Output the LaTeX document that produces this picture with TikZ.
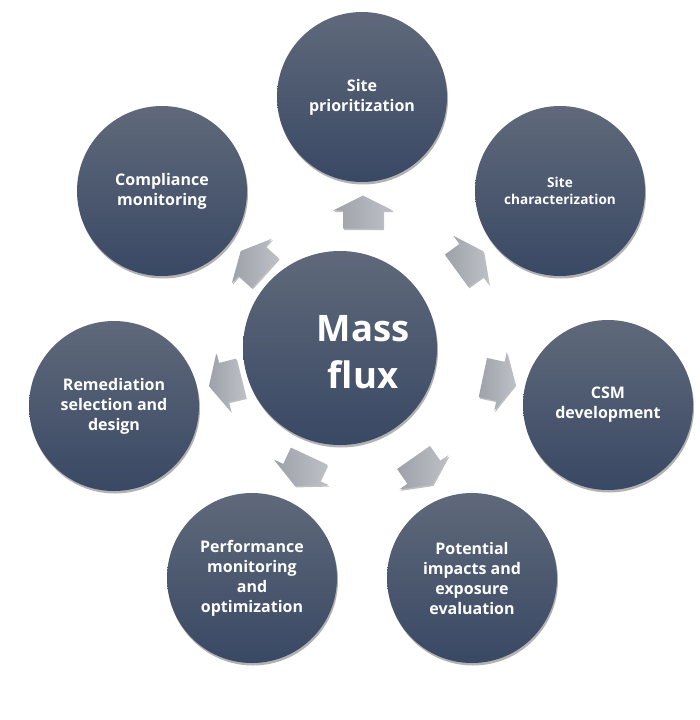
\documentclass[tikz,border=0pt]{standalone}
\usepackage{fontspec}
\setmainfont{Open Sans}
\usetikzlibrary{shadows}
\definecolor{ctop}{RGB}{95,105,122}
\definecolor{cbot}{RGB}{57,72,100}
\definecolor{atop}{RGB}{190,192,198}
\definecolor{abot}{RGB}{158,161,169}
\tikzset{
 bubble/.style={circle, minimum size=170pt, inner sep=0pt, top color=ctop, bottom color=cbot,
   draw=none, text=white, align=center, font=\bfseries\fontsize{16}{20}\selectfont,
   drop shadow={opacity=0.3, shadow xshift=1pt, shadow yshift=-2.5pt, fill=black}},
 hub/.style={bubble, minimum size=194pt},
 hubtext/.style={text=white, align=center, inner sep=0pt, font=\bfseries\fontsize{36.5}{47}\selectfont},
 flow/.style={left color=abot, right color=atop, draw=none,
   drop shadow={opacity=0.25, shadow xshift=1pt, shadow yshift=-1.5pt, fill=black}}
}
\newcommand{\flowarrow}[2]{%
 \begin{scope}[shift={#1}, rotate=#2]
  \path[flow] (-16.5pt,-20pt) -- (1.5pt,-20pt) -- (1.5pt,-30pt) -- (16.5pt,0pt)
     -- (1.5pt,30pt) -- (1.5pt,20pt) -- (-16.5pt,20pt) -- cycle;
 \end{scope}}
\begin{document}
\begin{tikzpicture}[x=1pt,y=-1pt]
\useasboundingbox[fill=white] (0,0) rectangle (700,720);
\node[hub] (hub) at (340,348) {};
\node[hubtext] (hubtext) at (363,352) {Mass\\flux};
\node[bubble] (prio) at (362,97) {Site\\prioritization};
\node[bubble, font=\bfseries\fontsize{13.6}{17}\selectfont] (char) at (560,191) {Site\\characterization};
\node[bubble] (csm) at (608,405) {CSM\\development};
\node[bubble] (imp) at (472,578) {Potential\\impacts and\\exposure\\evaluation};
\node[bubble] (perf) at (252,578) {Performance\\monitoring\\and\\optimization};
\node[bubble] (rem) at (114,406) {Remediation\\selection and\\design};
\node[bubble] (comp) at (162,191) {Compliance\\monitoring};
\flowarrow{(363,212)}{90}
\flowarrow{(470,261)}{36}
\flowarrow{(499,381)}{-12}
\flowarrow{(423,471)}{-55}
\flowarrow{(302,471)}{-115}
\flowarrow{(225,382)}{-166}
\flowarrow{(253,262)}{138}
\end{tikzpicture}
\end{document}
